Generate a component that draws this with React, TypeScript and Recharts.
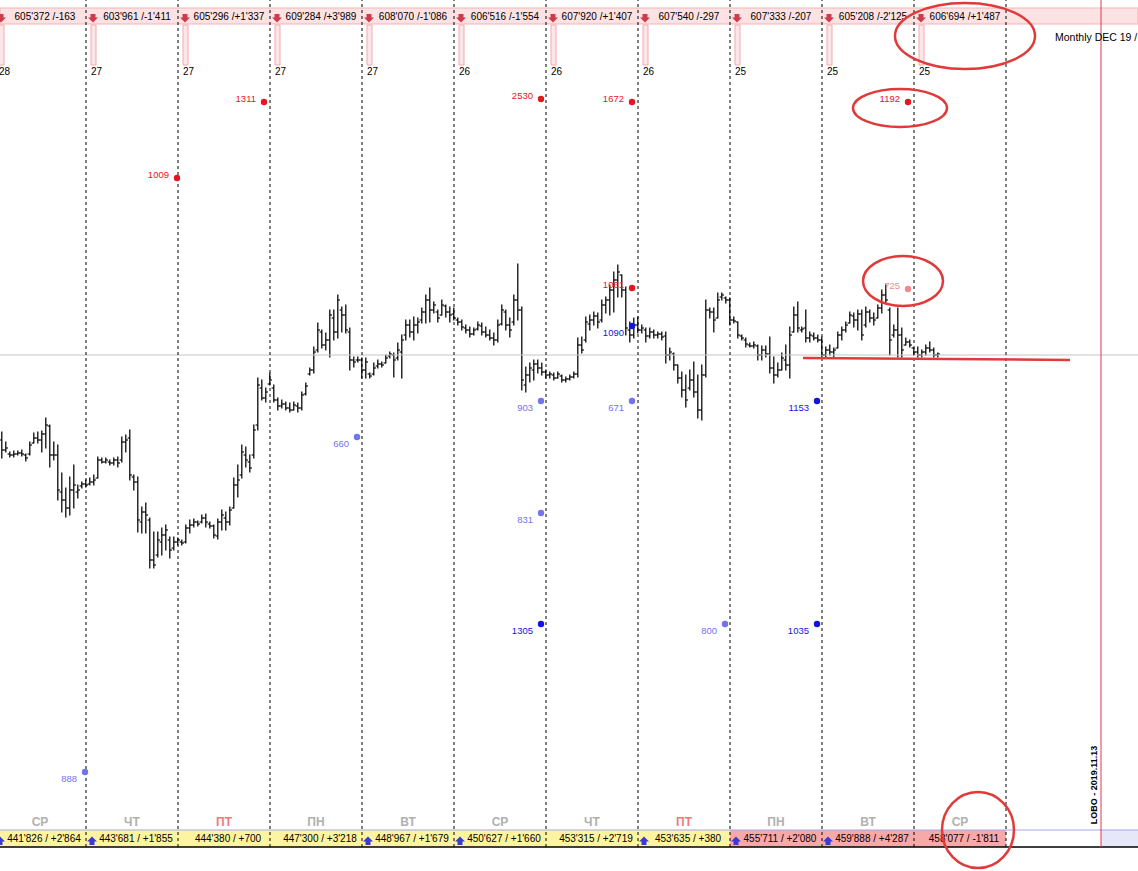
import React from 'react';
import { ComposedChart, Bar, XAxis, YAxis, ReferenceLine, ReferenceArea, ReferenceDot } from 'recharts';

// ---- hourly OHLC bars (price units) ----
const HIGH = [
  568, 558, 548, 549, 549, 550, 546, 558, 567, 568,
  569, 582, 575, 558, 555, 527, 512, 523, 535, 515,
  518, 520, 522, 525, 543, 542, 542, 540, 542, 543,
  563, 565, 570, 525, 523, 493, 497, 482, 468, 468,
  472, 475, 463, 463, 462, 460, 475, 480, 481, 479,
  485, 486, 478, 475, 481, 490, 488, 493, 522, 535,
  555, 553, 545, 575, 622, 620, 612, 627, 615, 602,
  600, 598, 597, 598, 597, 608, 617, 632, 653, 677,
  670, 667, 690, 690, 705, 693, 695, 672, 643, 643,
  642, 642, 627, 637, 640, 638, 645, 648, 647, 657,
  665, 680, 680, 683, 682, 692, 705, 712, 698, 690,
  700, 695, 693, 692, 682, 680, 675, 673, 672, 678,
  677, 673, 670, 667, 680, 695, 690, 682, 705, 736,
  693, 633, 637, 640, 640, 637, 630, 628, 627, 628,
  625, 623, 625, 628, 662, 663, 683, 685, 688, 687,
  700, 703, 715, 728, 735, 725, 713, 678, 682, 683,
  675, 672, 672, 670, 668, 668, 668, 652, 647, 635,
  628, 625, 630, 638, 625, 635, 700, 692, 692, 707,
  707, 703, 702, 683, 678, 665, 662, 657, 658, 655,
  654, 654, 663, 643, 637, 647, 655, 673, 693, 698,
  673, 690, 668, 667, 665, 663, 653, 655, 652, 668,
  673, 678, 688, 687, 690, 690, 693, 690, 687, 695,
  710, 715, 692, 675, 692, 672, 662, 660, 652, 653,
  650, 655, 658, 652, 647,
];
const LOW = [
  542, 548, 543, 543, 545, 544, 539, 545, 557, 557,
  548, 552, 533, 540, 500, 488, 483, 485, 492, 502,
  512, 513, 515, 515, 522, 537, 537, 535, 535, 533,
  538, 548, 520, 510, 468, 467, 467, 432, 432, 443,
  445, 450, 442, 450, 455, 455, 457, 467, 473, 474,
  477, 473, 472, 462, 461, 470, 470, 475, 492, 503,
  522, 533, 528, 542, 570, 600, 598, 615, 598, 590,
  592, 590, 588, 590, 588, 590, 605, 625, 627, 648,
  652, 650, 643, 660, 662, 668, 667, 630, 633, 638,
  622, 622, 622, 625, 632, 633, 637, 642, 623, 640,
  622, 660, 663, 660, 667, 677, 677, 678, 687, 678,
  685, 683, 678, 680, 675, 670, 667, 663, 665, 670,
  665, 663, 660, 655, 658, 675, 670, 663, 675, 680,
  610, 608, 618, 620, 627, 625, 622, 622, 620, 622,
  618, 618, 620, 622, 623, 647, 658, 670, 675, 672,
  678, 687, 685, 688, 703, 703, 665, 658, 662, 667,
  667, 658, 662, 662, 662, 660, 637, 640, 630, 617,
  603, 593, 610, 603, 582, 580, 623, 682, 668, 682,
  700, 697, 675, 677, 662, 660, 653, 653, 652, 640,
  640, 643, 627, 617, 623, 630, 630, 622, 668, 668,
  668, 658, 658, 660, 658, 642, 643, 645, 643, 652,
  660, 668, 677, 673, 670, 660, 673, 678, 675, 682,
  687, 697, 645, 663, 643, 643, 655, 653, 645, 643,
  643, 645, 648, 643, 643,
];
const OPEN = [
  560, 550, 546, 545, 546, 547, 545, 546, 557, 562,
  560, 566, 574, 545, 545, 508, 500, 492, 510, 508,
  514, 516, 516, 518, 522, 540, 538, 538, 537, 540,
  540, 558, 562, 523, 518, 478, 488, 480, 440, 445,
  458, 465, 460, 452, 458, 458, 458, 472, 475, 478,
  478, 482, 476, 474, 464, 478, 482, 478, 492, 515,
  525, 545, 538, 545, 575, 612, 602, 616, 612, 600,
  594, 596, 592, 590, 594, 592, 606, 626, 630, 650,
  668, 655, 660, 682, 668, 690, 685, 668, 640, 640,
  640, 630, 626, 626, 634, 636, 637, 644, 645, 642,
  648, 665, 675, 668, 675, 680, 688, 700, 690, 688,
  685, 694, 688, 686, 680, 678, 672, 670, 666, 671,
  674, 668, 665, 662, 660, 676, 688, 675, 678, 700,
  690, 615, 625, 630, 636, 632, 628, 625, 625, 622,
  624, 620, 621, 623, 626, 655, 660, 676, 680, 684,
  680, 695, 700, 710, 720, 725, 710, 670, 665, 675,
  670, 670, 664, 668, 665, 666, 664, 645, 646, 635,
  622, 610, 612, 620, 608, 590, 625, 690, 688, 682,
  703, 702, 700, 680, 678, 664, 660, 655, 654, 654,
  645, 650, 646, 632, 625, 630, 640, 635, 668, 685,
  670, 672, 662, 664, 662, 660, 645, 650, 648, 652,
  665, 670, 677, 684, 680, 686, 675, 688, 682, 682,
  692, 705, 690, 665, 670, 665, 655, 658, 652, 648,
  645, 648, 652, 650, 645,
];
const CLOSE = [
  550, 552, 545, 546, 547, 546, 542, 555, 562, 560,
  566, 575, 545, 545, 510, 500, 492, 510, 515, 510,
  516, 515, 518, 520, 540, 538, 540, 537, 540, 537,
  558, 560, 525, 518, 480, 488, 485, 440, 435, 460,
  465, 470, 450, 458, 460, 457, 472, 475, 478, 476,
  482, 478, 474, 465, 478, 485, 478, 490, 515, 520,
  548, 540, 532, 570, 615, 602, 608, 620, 600, 594,
  596, 592, 590, 595, 592, 605, 614, 630, 648, 670,
  655, 660, 685, 668, 700, 685, 670, 640, 638, 640,
  630, 638, 624, 632, 636, 635, 642, 646, 640, 650,
  660, 675, 668, 675, 678, 688, 700, 690, 695, 682,
  695, 688, 685, 682, 678, 673, 670, 666, 670, 675,
  668, 665, 662, 660, 675, 690, 675, 670, 700, 690,
  620, 625, 632, 636, 632, 628, 625, 626, 622, 626,
  620, 621, 623, 626, 655, 650, 678, 680, 684, 678,
  695, 700, 710, 720, 728, 710, 672, 665, 675, 670,
  672, 664, 668, 665, 666, 663, 645, 648, 635, 622,
  610, 600, 620, 608, 590, 625, 690, 688, 680, 700,
  705, 700, 680, 679, 665, 662, 656, 654, 655, 645,
  650, 646, 632, 625, 630, 642, 635, 665, 685, 672,
  671, 662, 665, 662, 660, 645, 650, 648, 650, 665,
  670, 675, 685, 680, 686, 665, 688, 682, 680, 692,
  705, 700, 660, 670, 665, 650, 658, 655, 648, 645,
  648, 652, 650, 645, 646,
];

// ---- sessions (bar index where each trading day starts) ----
const SESSION_START = [-2, 21, 44, 67, 90, 113, 136, 159, 182, 205, 228, 251];
const DAY_NAMES = ['СР', 'ЧТ', 'ПТ', 'ПН', 'ВТ', 'СР', 'ЧТ', 'ПТ', 'ПН', 'ВТ', 'СР'];
const TOP_LABELS = [
  "605'372 /-163", "603'961 /-1'411", "605'296 /+1'337", "609'284 /+3'989",
  "608'070 /-1'086", "606'516 /-1'554", "607'920 /+1'407", "607'540 /-297",
  "607'333 /-207", "605'208 /-2'125", "606'694 /+1'487",
];
const BOTTOM_LABELS = [
  "441'826 / +2'864", "443'681 / +1'855", "444'380 / +700", "447'300 / +3'218",
  "448'967 / +1'679", "450'627 / +1'660", "453'315 / +2'719", "453'635 / +380",
  "455'711 / +2'080", "459'888 / +4'287", "458'077 / -1'811",
];
const DAYS_TO_EXPIRY = ['28', '27', '27', '27', '27', '26', '26', '26', '25', '25', '25'];
const UP_ARROW = [true, true, false, false, true, true, false, true, true, true, false];

// ---- volume levels (dots) ----
const LEVEL_BAR = [20.75, 43.75, 65.5, 88.75, 134.75, 134.75, 134.75, 134.75, 157.5, 157.5, 157.5, 157.5, 180.75, 203.75, 203.75, 226.5, 226.5];
const LEVEL_PRICE = [228, 822, 898, 563, 901, 599, 487, 376, 898, 712, 674, 599, 376, 599, 376, 898, 711];
const LEVEL_VALUE = [888, 1009, 1311, 660, 2530, 903, 831, 1305, 1672, 1061, 1090, 671, 800, 1153, 1035, 1192, 725];
const LEVEL_KIND = ['bidWeak', 'ask', 'ask', 'bidWeak', 'ask', 'bidWeak', 'bidWeak', 'bid', 'ask', 'ask', 'bid', 'bidWeak', 'bidWeak', 'bid', 'bid', 'ask', 'askWeak'];

const KIND_COLOR: Record<string, string> = {
  ask: '#e8141e',
  askWeak: '#f08a8a',
  bid: '#1414dc',
  bidWeak: '#7373ee',
};

const REF_PRICE = 645;
const BAR_LAST_X = 284;
const FONT = '"Liberation Sans", Arial, sans-serif';
const PINK_FROM = 8;
const NOW_BAR = 274.75;

const data = HIGH.map((h, k) => ({
  i: k,
  high: h,
  low: LOW[k],
  open: OPEN[k],
  close: CLOSE[k],
  range: [LOW[k], h],
}));

const OhlcShape = (props: any) => {
  const { x, y, width, height, payload } = props;
  if (x == null || y == null) return null;
  const cx = x + width / 2;
  const top = Math.min(y, y + height);
  const h = Math.abs(height);
  const span = payload.high - payload.low || 1;
  const yO = top + ((payload.high - payload.open) / span) * h;
  const yC = top + ((payload.high - payload.close) / span) * h;
  return (
    <g>
      <line x1={cx} x2={cx} y1={top - 0.5} y2={top + h + 0.5} stroke="#000" strokeWidth={1.25} />
      <line x1={cx - 2.2} x2={cx} y1={yO} y2={yO} stroke="#000" strokeWidth={1.1} />
      <line x1={cx} x2={cx + 2.2} y1={yC} y2={yC} stroke="#000" strokeWidth={1.1} />
    </g>
  );
};

const textShape = (
  text: string,
  o: { anchor?: string; size?: number; color?: string; weight?: string; dx?: number; dy?: number; rotate?: number }
) => (p: any) => {
  const x = p.cx + (o.dx || 0);
  const y = p.cy + (o.dy || 0);
  return (
    <text
      x={x}
      y={y}
      textAnchor={o.anchor || 'middle'}
      dominantBaseline="central"
      fontFamily={FONT}
      fontSize={o.size || 10}
      fontWeight={o.weight || 'normal'}
      fill={o.color || '#000'}
      transform={o.rotate ? `rotate(${o.rotate} ${x} ${y})` : undefined}
    >
      {text}
    </text>
  );
};

const downArrow = (p: any) => {
  const { cx, cy } = p;
  const pts = [
    [-2.5, -4], [2.5, -4], [2.5, -0.5], [5, -0.5], [0, 4.5], [-5, -0.5], [-2.5, -0.5],
  ].map(([a, b]) => `${cx + a},${cy + b}`).join(' ');
  return <polygon points={pts} fill="#cf3b4b" />;
};

const upArrow = (p: any) => {
  const { cx, cy } = p;
  const pts = [
    [0, -4.5], [5, 0.5], [2.5, 0.5], [2.5, 4], [-2.5, 4], [-2.5, 0.5], [-5, 0.5],
  ].map(([a, b]) => `${cx + a},${cy + b}`).join(' ');
  return <polygon points={pts} fill="#3b3bd0" />;
};

const ellipseShape = (rx: number, ry: number) => (p: any) => (
  <ellipse cx={p.cx} cy={p.cy} rx={rx} ry={ry} fill="none" stroke="#e03a3a" strokeWidth={2.5} />
);

export default function App() {
  const sessions = TOP_LABELS.map((_, k) => k);
  return (
    <div style={{ position: 'absolute', left: 0, top: 0, width: 1138, height: 871, background: '#fff' }}>
      <ComposedChart width={1138} height={871} data={data} margin={{ top: 0, right: 0, bottom: 0, left: 0 }}>
        <XAxis type="number" dataKey="i" domain={[-0.5, BAR_LAST_X]} hide allowDataOverflow />
        <YAxis type="number" domain={[129, 1000]} hide allowDataOverflow />

        {/* top banner */}
        <ReferenceArea x1={-0.5} x2={BAR_LAST_X} y1={976} y2={992} fill="#fde2e3" fillOpacity={1} stroke="#f3b3b8" strokeWidth={1} ifOverflow="visible" />

        {/* bottom banner */}
        <ReferenceArea x1={-0.5} x2={SESSION_START[PINK_FROM]} y1={153} y2={170} fill="#fdf4a2" fillOpacity={1} stroke="none" ifOverflow="visible" />
        <ReferenceArea x1={SESSION_START[PINK_FROM]} x2={SESSION_START[SESSION_START.length - 1]} y1={153} y2={170} fill="#f7a9a9" fillOpacity={1} stroke="none" ifOverflow="visible" />
        <ReferenceArea x1={NOW_BAR} x2={BAR_LAST_X} y1={153} y2={170} fill="#e7e7fa" fillOpacity={1} stroke="none" ifOverflow="visible" />
        <ReferenceLine y={170} stroke="#a5a5e5" strokeWidth={1} ifOverflow="visible" />
        <ReferenceLine y={153} stroke="#000" strokeWidth={1.5} ifOverflow="visible" />

        {/* expiry markers under the top banner */}
        {sessions.map((k) => (
          <ReferenceArea key={`mk${k}`} x1={SESSION_START[k] + 1.25} x2={SESSION_START[k] + 2.5} y1={935} y2={975} fill="#fde6e7" fillOpacity={1} stroke="#f2aab0" strokeWidth={1} ifOverflow="visible" />
        ))}

        {/* reference price line */}
        <ReferenceLine y={REF_PRICE} stroke="#c4c4c4" strokeWidth={1} />

        {/* session separators */}
        {SESSION_START.slice(1).map((s) => (
          <ReferenceLine key={`sep${s}`} segment={[{ x: s, y: 153 }, { x: s, y: 1000 }]} stroke="#000" strokeWidth={1} strokeDasharray="3 3" />
        ))}

        {/* current time line */}
        <ReferenceLine segment={[{ x: NOW_BAR, y: 153 }, { x: NOW_BAR, y: 1000 }]} stroke="#dd3a4a" strokeWidth={1} />

        <Bar dataKey="range" barSize={4} isAnimationActive={false} shape={OhlcShape} />

        {/* hand drawn support line */}
        <ReferenceLine segment={[{ x: 200.25, y: 642 }, { x: 267, y: 640 }]} stroke="#e03a3a" strokeWidth={2.5} />

        {/* banner texts */}
        {sessions.map((k) => (
          <ReferenceDot key={`tl${k}`} x={SESSION_START[k] + 12.75} y={984} r={0} ifOverflow="visible" shape={textShape(TOP_LABELS[k], { size: 10 })} />
        ))}
        {sessions.map((k) => (
          <ReferenceDot key={`ta${k}`} x={SESSION_START[k] + 1.75} y={982} r={0} ifOverflow="visible" shape={downArrow} />
        ))}
        {sessions.map((k) => (
          <ReferenceDot key={`te${k}`} x={SESSION_START[k] + 1.25} y={929} r={0} ifOverflow="visible" shape={textShape(DAYS_TO_EXPIRY[k], { size: 10, anchor: 'start' })} />
        ))}
        {sessions.map((k) => (
          <ReferenceDot key={`bl${k}`} x={SESSION_START[k] + 12.5} y={162} r={0} ifOverflow="visible" shape={textShape(BOTTOM_LABELS[k], { size: 10 })} />
        ))}
        {sessions.filter((k) => UP_ARROW[k]).map((k) => (
          <ReferenceDot key={`ba${k}`} x={SESSION_START[k] + 1.5} y={159} r={0} ifOverflow="visible" shape={upArrow} />
        ))}
        {sessions.map((k) => (
          <ReferenceDot key={`dn${k}`} x={SESSION_START[k] + 11.5} y={178} r={0} ifOverflow="visible" shape={textShape(DAY_NAMES[k], { size: 12, weight: 'bold', color: DAY_NAMES[k] === 'ПТ' ? '#ef7a7a' : '#b0b0b0' })} />
        ))}

        <ReferenceDot x={263.25} y={963} r={0} ifOverflow="visible" shape={textShape('Monthly DEC 19 /', { size: 10.5, anchor: 'start' })} />
        <ReferenceDot x={273} y={215} r={0} ifOverflow="visible" shape={textShape('LOBO - 2019.11.13', { size: 9, weight: 'bold', rotate: -90 })} />

        {/* volume levels */}
        {LEVEL_VALUE.map((v, k) => {
          const color = KIND_COLOR[LEVEL_KIND[k]];
          const above = LEVEL_KIND[k].startsWith('ask');
          return (
            <ReferenceDot
              key={`lv${k}`}
              x={LEVEL_BAR[k]}
              y={LEVEL_PRICE[k]}
              r={3}
              ifOverflow="visible"
              shape={(p: any) => (
                <g>
                  <circle cx={p.cx} cy={p.cy} r={3.2} fill={color} />
                  <text x={p.cx - 8} y={p.cy + (above ? -4 : 6)} textAnchor="end" dominantBaseline="central" fontFamily={FONT} fontSize={9.5} fill={color}>
                    {v}
                  </text>
                </g>
              )}
            />
          );
        })}

        {/* annotation circles */}
        <ReferenceDot x={240.75} y={964} r={0} ifOverflow="visible" shape={ellipseShape(70, 33)} />
        <ReferenceDot x={224.5} y={892} r={0} ifOverflow="visible" shape={ellipseShape(47, 19)} />
        <ReferenceDot x={225.25} y={719} r={0} ifOverflow="visible" shape={ellipseShape(40, 25)} />
        <ReferenceDot x={244} y={170} r={0} ifOverflow="visible" shape={ellipseShape(36, 38)} />
      </ComposedChart>
    </div>
  );
}
